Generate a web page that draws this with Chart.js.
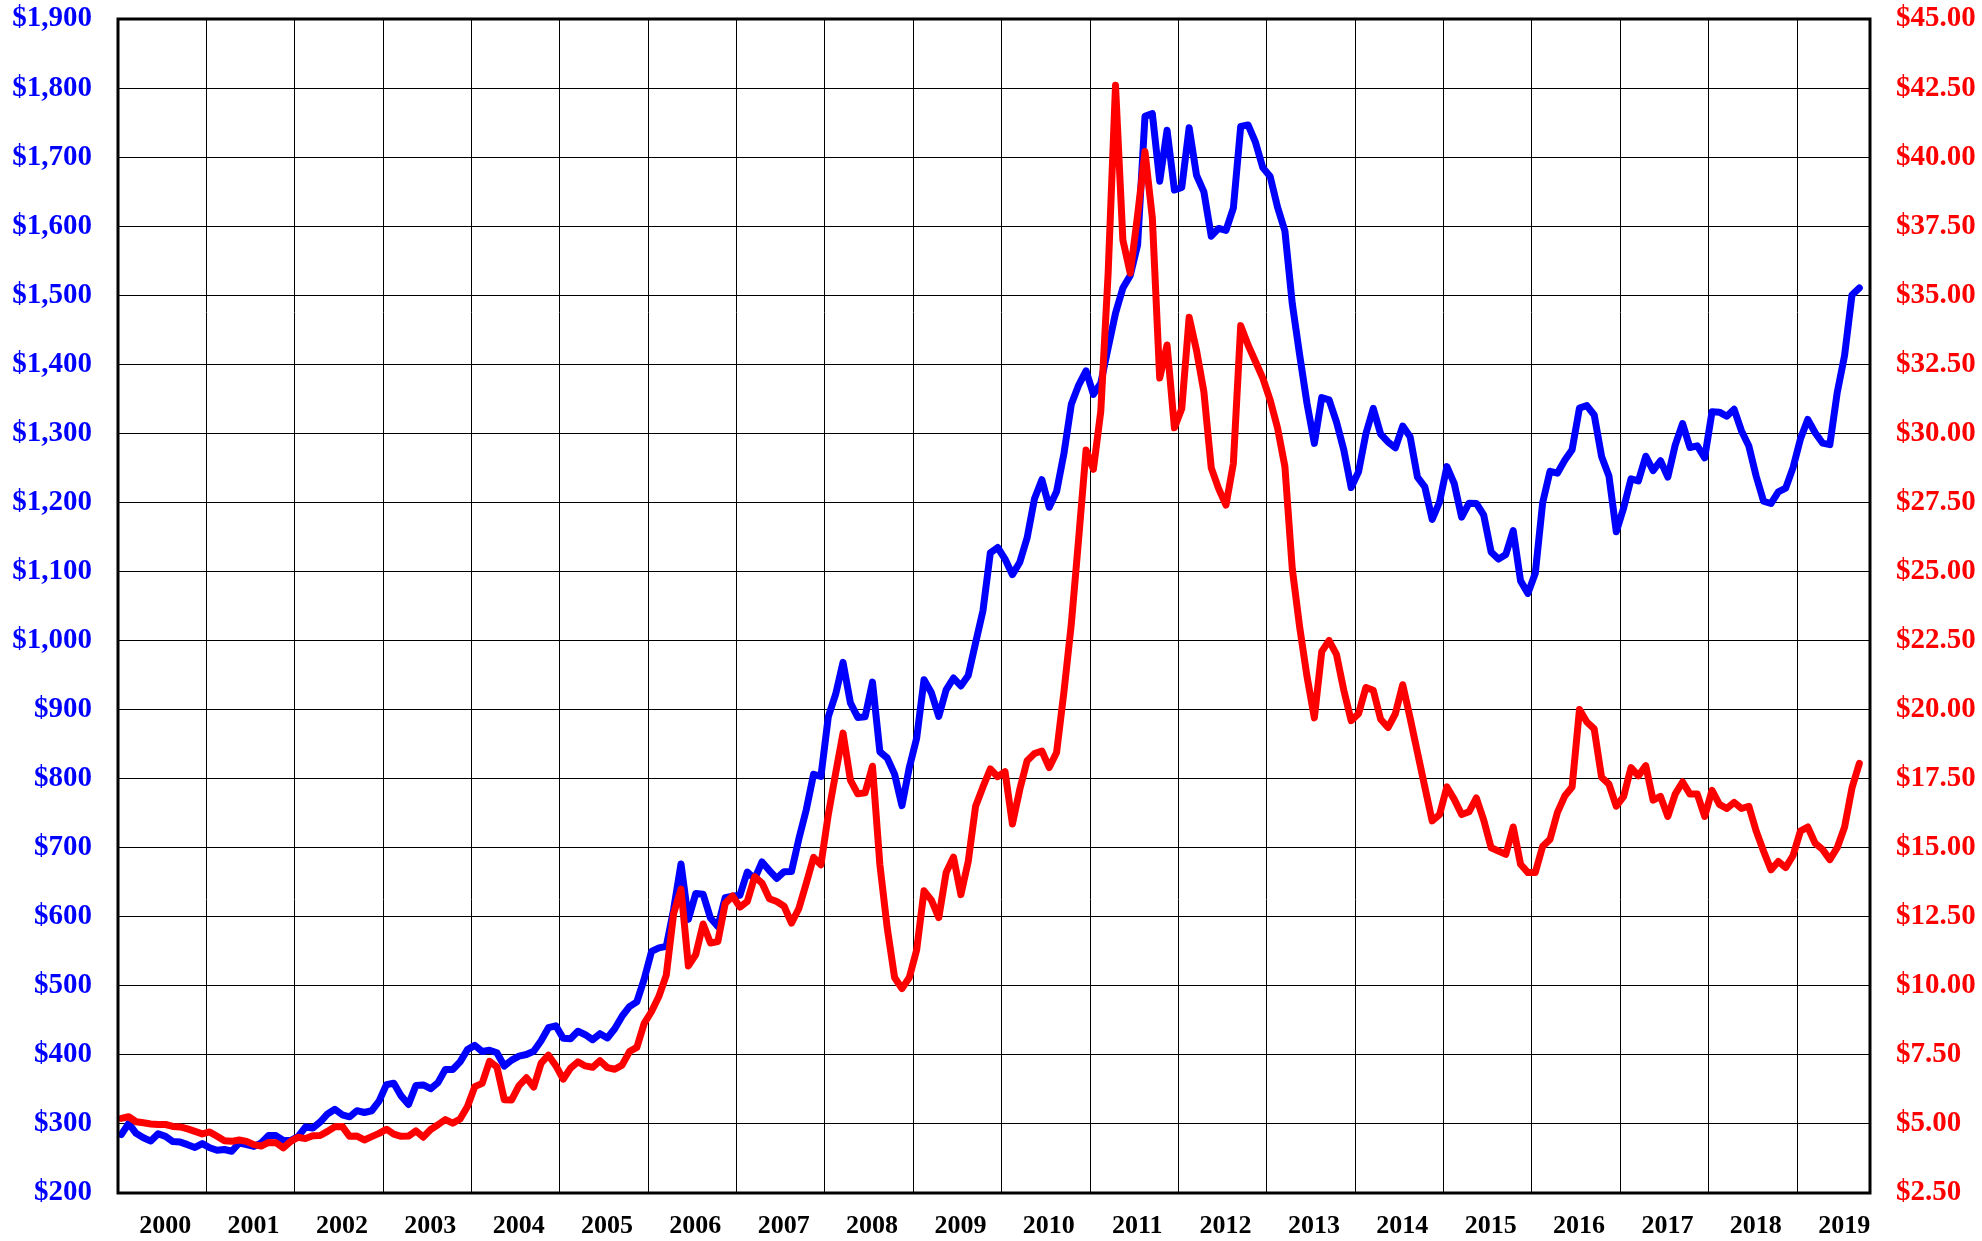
<!DOCTYPE html>
<html>
<head>
<meta charset="utf-8">
<script src="https://cdn.jsdelivr.net/npm/chart.js@4.4.0/dist/chart.umd.min.js"></script>
<style>
  html, body { margin: 0; padding: 0; background: #fff; }
  #wrap { width: 1982px; height: 1241px; }
</style>
</head>
<body>
<div id="wrap"><canvas id="chart"></canvas></div>
<script>
/* ===== Data (monthly, Jan 2000 - Sep 2019) ===== */
const yearLabels = ["2000","2001","2002","2003","2004","2005","2006","2007","2008","2009",
                    "2010","2011","2012","2013","2014","2015","2016","2017","2018","2019"];

const goldTicks = [200,300,400,500,600,700,800,900,1000,1100,1200,1300,1400,1500,1600,1700,1800,1900];
const silverTicks = [2.5,5,7.5,10,12.5,15,17.5,20,22.5,25,27.5,30,32.5,35,37.5,40,42.5,45];

// gold, $/oz
const goldPrices = [
  284.6, 300.9, 286.4, 280.0, 275.2, 285.7, 282.0, 274.5, 273.7, 270.0, 266.0, 271.5,   // 2000
  265.5, 261.9, 263.0, 260.5, 272.4, 270.2, 267.5, 272.4, 283.4, 283.1, 276.2, 275.9,   // 2001
  281.7, 295.5, 294.0, 302.7, 314.5, 321.2, 313.3, 310.3, 319.2, 316.6, 319.1, 333.0,   // 2002
  356.9, 359.0, 340.6, 328.2, 355.7, 356.5, 351.0, 359.8, 379.0, 378.9, 389.9, 407.6,   // 2003
  413.8, 404.9, 406.7, 403.0, 383.8, 392.4, 398.1, 400.5, 405.3, 420.5, 439.4, 442.1,   // 2004
  424.0, 423.4, 434.2, 429.2, 421.9, 430.7, 424.5, 437.9, 456.0, 469.9, 476.7, 509.8,   // 2005
  549.9, 555.0, 557.1, 610.7, 676.5, 596.2, 633.7, 632.6, 598.2, 585.8, 627.8, 629.8,   // 2006
  631.2, 664.8, 654.9, 679.4, 666.9, 655.5, 665.3, 665.4, 712.7, 754.6, 806.3, 803.2,   // 2007
  889.6, 922.3, 968.4, 909.7, 888.7, 889.5, 939.8, 839.0, 829.9, 806.6, 760.9, 816.1,   // 2008
  858.7, 943.2, 924.3, 890.2, 928.6, 945.7, 934.2, 949.4, 996.6, 1043.2, 1127.0, 1134.7, // 2009
  1118.0, 1095.4, 1113.3, 1148.7, 1205.4, 1232.9, 1193.0, 1215.8, 1271.0, 1342.0, 1369.9, 1390.6, // 2010
  1356.4, 1372.7, 1424.0, 1473.8, 1510.4, 1528.7, 1572.8, 1759.0, 1763.0, 1665.2, 1739.0, 1652.3, // 2011
  1656.1, 1742.6, 1673.8, 1649.7, 1585.5, 1596.7, 1593.9, 1626.0, 1744.5, 1746.6, 1721.6, 1684.8, // 2012
  1671.9, 1627.6, 1593.1, 1487.9, 1414.0, 1343.4, 1285.5, 1351.7, 1348.6, 1316.6, 1275.9, 1221.5, // 2013
  1244.3, 1299.6, 1336.1, 1299.0, 1287.5, 1279.1, 1310.6, 1295.1, 1236.6, 1222.5, 1175.3, 1200.6, // 2014
  1251.8, 1227.1, 1178.6, 1198.9, 1198.6, 1181.5, 1128.3, 1117.9, 1124.6, 1159.3, 1086.4, 1068.3, // 2015
  1097.4, 1199.5, 1245.1, 1242.3, 1260.9, 1276.4, 1336.7, 1340.2, 1326.6, 1266.6, 1238.4, 1157.4, // 2016
  1192.1, 1234.2, 1231.1, 1266.9, 1246.0, 1260.3, 1236.8, 1283.0, 1314.1, 1279.5, 1281.9, 1264.5, // 2017
  1331.3, 1330.7, 1324.7, 1334.8, 1303.5, 1281.6, 1237.7, 1201.7, 1198.4, 1215.4, 1220.7, 1250.4, // 2018
  1291.8, 1320.1, 1300.9, 1285.9, 1283.7, 1359.0, 1412.9, 1500.4, 1510.6                          // 2019
];

// silver, $/oz
const silverPrices = [
  5.20, 5.26, 5.08, 5.04, 5.00, 4.98, 4.98, 4.91, 4.89, 4.82, 4.73, 4.64,   // 2000
  4.71, 4.55, 4.39, 4.37, 4.42, 4.37, 4.25, 4.20, 4.33, 4.32, 4.13, 4.37,   // 2001
  4.52, 4.47, 4.57, 4.58, 4.73, 4.90, 4.91, 4.55, 4.56, 4.42, 4.54, 4.66,   // 2002
  4.81, 4.63, 4.55, 4.56, 4.75, 4.52, 4.80, 4.97, 5.16, 5.03, 5.18, 5.63,   // 2003
  6.35, 6.47, 7.27, 7.06, 5.88, 5.87, 6.39, 6.67, 6.34, 7.20, 7.49, 7.11,   // 2004
  6.62, 7.02, 7.25, 7.10, 7.05, 7.29, 7.04, 6.98, 7.13, 7.62, 7.77, 8.64,   // 2005
  9.07, 9.62, 10.39, 12.62, 13.50, 10.72, 11.13, 12.24, 11.55, 11.60, 12.98, 13.25, // 2006
  12.85, 13.05, 13.95, 13.72, 13.15, 13.05, 12.88, 12.27, 12.80, 13.70, 14.65, 14.38, // 2007
  16.20, 17.70, 19.15, 17.45, 16.95, 16.99, 17.95, 14.40, 12.10, 10.30, 9.90, 10.30,  // 2008
  11.30, 13.44, 13.10, 12.47, 14.10, 14.66, 13.30, 14.50, 16.50, 17.20, 17.85, 17.57, // 2009
  17.75, 15.86, 17.11, 18.15, 18.41, 18.50, 17.90, 18.45, 20.65, 23.10, 26.20, 29.40, // 2010
  28.70, 30.80, 35.80, 42.60, 37.00, 35.80, 37.90, 40.20, 37.80, 32.00, 33.20, 30.20, // 2011
  30.90, 34.20, 33.00, 31.50, 28.75, 28.00, 27.40, 28.90, 33.90, 33.20, 32.60, 32.00, // 2012
  31.20, 30.20, 28.80, 25.10, 23.00, 21.20, 19.70, 22.10, 22.50, 22.00, 20.70, 19.60, // 2013
  19.85, 20.80, 20.70, 19.65, 19.35, 19.85, 20.90, 19.70, 18.45, 17.20, 15.97, 16.20, // 2014
  17.20, 16.75, 16.20, 16.30, 16.80, 16.00, 15.00, 14.88, 14.76, 15.75, 14.40, 14.10, // 2015
  14.10, 15.05, 15.30, 16.27, 16.87, 17.20, 20.00, 19.55, 19.30, 17.55, 17.30, 16.50, // 2016
  16.86, 17.90, 17.60, 17.97, 16.72, 16.86, 16.13, 16.94, 17.38, 16.94, 16.94, 16.13, // 2017
  17.08, 16.57, 16.42, 16.64, 16.42, 16.50, 15.60, 14.87, 14.20, 14.50, 14.28, 14.72, // 2018
  15.60, 15.75, 15.16, 14.94, 14.57, 15.00, 15.75, 17.16, 18.05                        // 2019
];

/* ===== Helpers ===== */
const FONT = "'Liberation Serif', 'Times New Roman', serif";
const monthPoints = (arr) => arr.map((v, i) => ({ x: i + 0.45, y: v }));
const yearStarts = yearLabels.map((_, i) => i * 12);
const yearMids = yearLabels.map((_, i) => i * 12 + 6.4);
const GRID = "#000";

// fixed widths for the value axes, no extra padding for the end labels
function fixY(width){
  return (s) => { s.width = width; s.paddingTop = 0; s.paddingBottom = 0; };
}

// black frame round the plot area
const framePlugin = {
  id: "frame",
  afterDatasetsDraw(chart){
    const { ctx, chartArea: a } = chart;
    ctx.save();
    ctx.strokeStyle = "#000";
    ctx.lineWidth = 3;
    ctx.strokeRect(a.left, a.top, a.right - a.left, a.bottom - a.top);
    ctx.restore();
  }
};

/* ===== Chart ===== */
new Chart(document.getElementById("chart"), {
  type: "line",
  data: {
    datasets: [
      {
        label: "Silver",
        data: monthPoints(silverPrices),
        yAxisID: "y1",
        borderColor: "#FF0000",
        borderWidth: 7,
        pointRadius: 0,
        tension: 0,
        borderJoinStyle: "round",
        borderCapStyle: "round",
        order: 0
      },
      {
        label: "Gold",
        data: monthPoints(goldPrices),
        yAxisID: "y",
        borderColor: "#0000FF",
        borderWidth: 7,
        pointRadius: 0,
        tension: 0,
        borderJoinStyle: "round",
        borderCapStyle: "round",
        order: 1
      }
    ]
  },
  options: {
    responsive: true,
    maintainAspectRatio: false,
    animation: false,
    devicePixelRatio: 1,
    layout: { padding: { top: 19, left: 0, right: 0, bottom: 0 } },
    plugins: { legend: { display: false }, tooltip: { enabled: false } },
    scales: {
      x: {
        type: "linear", position: "bottom", min: 0, max: 237.9,
        afterBuildTicks: s => { s.ticks = yearStarts.map(v => ({ value: v })); },
        afterFit: s => { s.height = 0; },
        ticks: { display: false },
        grid: { color: GRID, lineWidth: 1, drawTicks: false },
        border: { display: false }
      },
      xYears: {
        type: "linear", position: "bottom", min: 0, max: 237.9,
        afterBuildTicks: s => { s.ticks = yearMids.map(v => ({ value: v })); },
        afterFit: s => { s.height = 48; },
        ticks: {
          autoSkip: false, maxRotation: 0, padding: 18, color: "#000",
          font: { family: FONT, size: 26, weight: "bold" },
          callback: (v, i) => yearLabels[i]
        },
        grid: { display: false, drawTicks: false },
        border: { display: false }
      },
      y: {
        type: "linear", position: "left", min: 200, max: 1900,
        afterBuildTicks: s => { s.ticks = goldTicks.map(v => ({ value: v })); },
        afterFit: fixY(118),
        ticks: {
          padding: 26, color: "#0000FF",
          font: { family: FONT, size: 29, weight: "bold" },
          callback: v => "$" + v.toLocaleString("en-US")
        },
        grid: { color: GRID, lineWidth: 1, drawTicks: false },
        border: { display: false }
      },
      y1: {
        type: "linear", position: "right", min: 2.5, max: 45,
        afterBuildTicks: s => { s.ticks = silverTicks.map(v => ({ value: v })); },
        afterFit: fixY(112),
        ticks: {
          padding: 26, color: "#FF0000",
          font: { family: FONT, size: 29, weight: "bold" },
          callback: v => "$" + v.toFixed(2)
        },
        grid: { display: false, drawTicks: false },
        border: { display: false }
      }
    }
  },
  plugins: [framePlugin]
});
</script>
</body>
</html>
